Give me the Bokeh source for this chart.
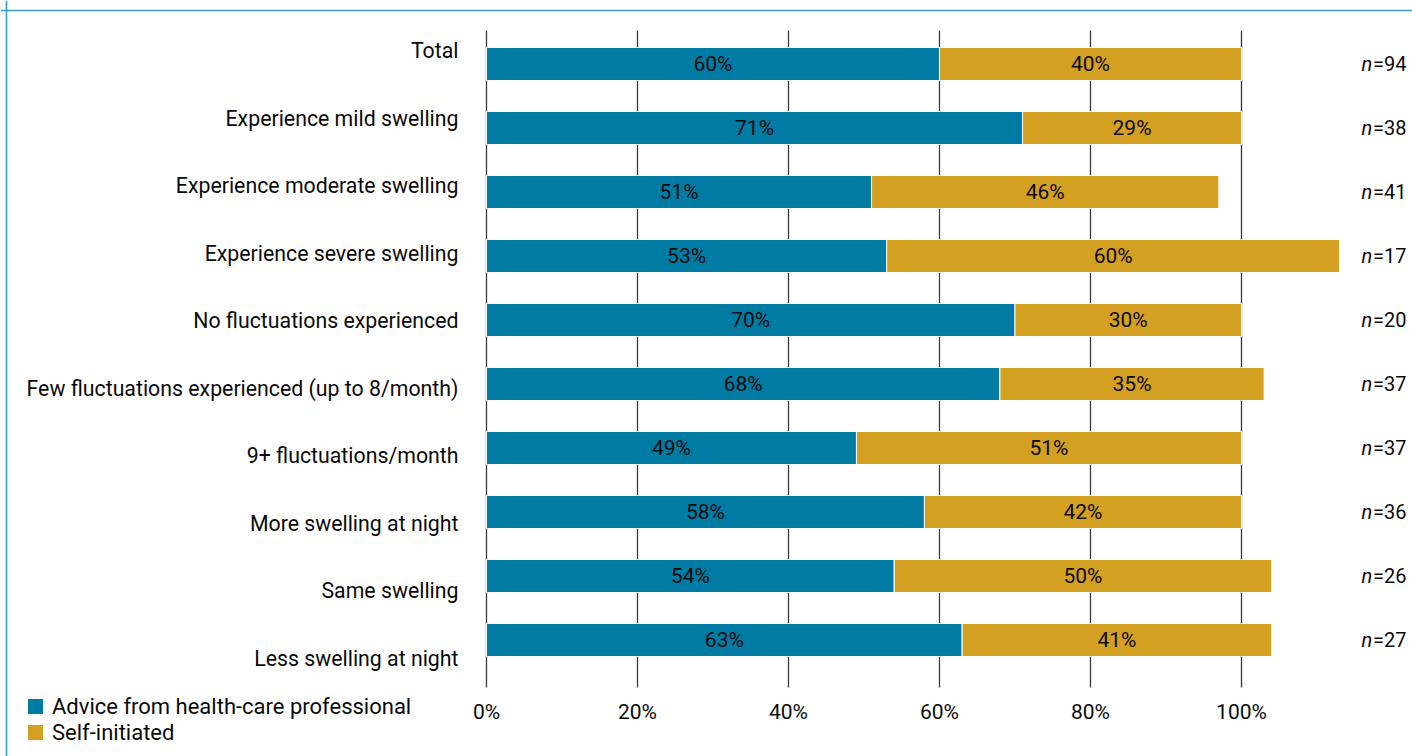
from bokeh.plotting import figure
from bokeh.models import (Range1d, LinearAxis, FixedTicker, ColumnDataSource, Legend,
                          LegendItem, Span)
from bokeh.core.properties import value
from bokeh.embed import file_html
from bokeh.resources import INLINE

categories = [
    "Total",
    "Experience mild swelling",
    "Experience moderate swelling",
    "Experience severe swelling",
    "No fluctuations experienced",
    "Few fluctuations experienced (up to 8/month)",
    "9+ fluctuations/month",
    "More swelling at night",
    "Same swelling",
    "Less swelling at night",
]
advice = [60, 71, 51, 53, 70, 68, 49, 58, 54, 63]
self_init = [40, 29, 46, 60, 30, 35, 51, 42, 50, 41]
n_resp = [94, 38, 41, 17, 20, 37, 37, 36, 26, 27]
x_ticks = [0, 20, 40, 60, 80, 100]
x_tick_labels = ["0%", "20%", "40%", "60%", "80%", "100%"]
series_names = ["Advice from health-care professional", "Self-initiated"]

FONT = "Roboto"
TEAL = "#007BA3"
GOLD = "#D4A021"
INK = "#0a0a0a"
GRID = "#3a3a3a"
FRAME = "#3a9cc4"

W, H = 1412, 756
# plot-area extents in the bar (row index) coordinate
AREA_TOP, AREA_BOTTOM = -0.523, 9.742

idx = list(range(len(categories)))
src = ColumnDataSource(dict(
    y=idx,
    adv=advice,
    total=[a + s for a, s in zip(advice, self_init)],
    adv_mid=[a / 2 for a in advice],
    self_mid=[a + s / 2 for a, s in zip(advice, self_init)],
    adv_lab=[f"{a}%" for a in advice],
    self_lab=[f"{s}%" for s in self_init],
    n_lab=[f"={n}" for n in n_resp],
    n_it=["n"] * len(n_resp),
))

p = figure(width=W, height=H, output_backend="svg", toolbar_location=None,
           x_range=Range1d(-64.37, 122.65), y_range=Range1d(10.820, -0.992),
           x_axis_location=None, y_axis_location=None,
           min_border=0)
p.outline_line_color = None
p.xgrid.visible = False
p.ygrid.visible = False

# frame lines (top and left)
p.add_layout(Span(location=H - 10, location_units="screen", dimension="width",
                  line_color=FRAME, line_width=1.6))
p.add_layout(Span(location=6, location_units="screen", dimension="height",
                  line_color=FRAME, line_width=1.6))

# vertical grid lines
p.segment(x0=x_ticks, x1=x_ticks, y0=AREA_TOP, y1=AREA_BOTTOM,
          line_color=GRID, line_width=1.3)

# x axis, fixed at the bottom of the plot area
xa = LinearAxis(fixed_location=AREA_BOTTOM, ticker=FixedTicker(ticks=x_ticks),
                major_label_overrides={t: l for t, l in zip(x_ticks, x_tick_labels)},
                axis_line_color=None, major_tick_line_color=None, minor_tick_line_color=None,
                major_tick_out=0, major_tick_in=0, major_label_standoff=12,
                major_label_text_font=FONT, major_label_text_font_size="21px",
                major_label_text_color=INK)
p.add_layout(xa, "below")

# category axis
p.extra_y_ranges = {"lab": Range1d(10.452, -0.740)}
ya = LinearAxis(y_range_name="lab", fixed_location=0, ticker=FixedTicker(ticks=idx),
                major_label_overrides={i: c for i, c in enumerate(categories)},
                axis_line_color=None, major_tick_line_color=None, minor_tick_line_color=None,
                major_tick_out=0, major_tick_in=0, major_label_standoff=28,
                major_label_text_font=FONT, major_label_text_font_size="21.3px",
                major_label_text_color=INK)
p.add_layout(ya, "left")

r1 = p.hbar(y="y", left=0, right="adv", height=0.516, source=src,
            fill_color=TEAL, line_color="white", line_width=1)
r2 = p.hbar(y="y", left="adv", right="total", height=0.516, source=src,
            fill_color=GOLD, line_color="white", line_width=1)

for xcol, tcol in (("adv_mid", "adv_lab"), ("self_mid", "self_lab")):
    p.text(x=xcol, y="y", text=tcol, source=src, text_align="center",
           text_baseline="middle", text_font=value(FONT), text_font_size="21px",
           text_color=INK)

p.text(x=115.9, y="y", text="n_it", source=src, text_align="left", text_baseline="middle",
       text_font=value(FONT), text_font_size="20px", text_font_style="italic",
       text_color=INK)
p.text(x=121.85, y="y", text="n_lab", source=src, text_align="right", text_baseline="middle",
       text_font=value(FONT), text_font_size="20px", text_color=INK)

legend = Legend(items=[LegendItem(label=series_names[0], renderers=[r1]),
                       LegendItem(label=series_names[1], renderers=[r2])],
                location=(25, 11), glyph_width=20, glyph_height=20,
                label_standoff=7, spacing=0, padding=0, margin=0,
                border_line_color=None, background_fill_alpha=0,
                label_text_font=FONT, label_text_font_size="22px",
                label_height=26, label_text_color=INK)
p.add_layout(legend)

open("out.html", "w").write(file_html(p, INLINE))
